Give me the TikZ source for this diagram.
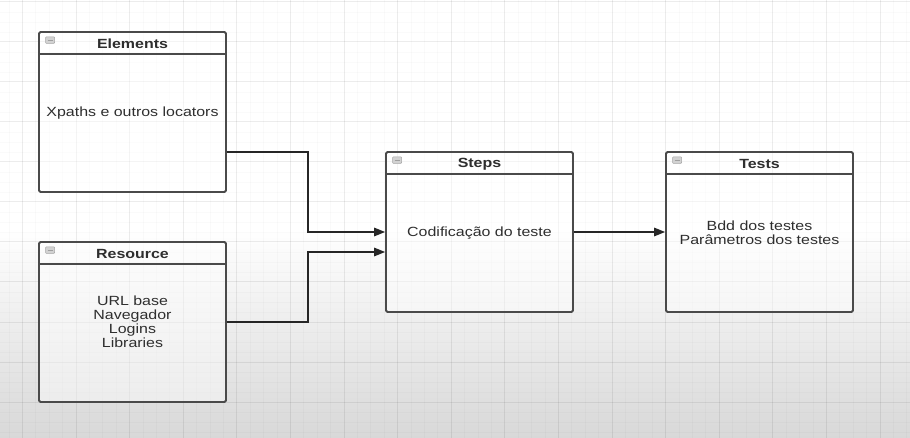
\documentclass[tikz,border=0pt]{standalone}
\usepackage{fontspec}
\setmainfont{Liberation Sans}[FakeStretch=1.2]
\usetikzlibrary{arrows.meta,calc}
\definecolor{boxline}{HTML}{4A4A4A}
\definecolor{inktext}{HTML}{2E2E2E}
\definecolor{floor}{HTML}{D8D8D8}
\begin{document}
\begin{tikzpicture}[x=1pt,y=-1pt,
  gridmajor/.style={draw=black,draw opacity=0.075,line width=1pt},
  gridminor/.style={draw=black,draw opacity=0.018,line width=0.8pt},
  classbox/.style={draw=boxline,line width=1.8pt,rounded corners=1.5pt,
    fill=white,fill opacity=0.45,text opacity=1,
    minimum width=187pt,minimum height=160pt,inner sep=0pt},
  headline/.style={draw=boxline,line width=1.6pt},
  titletext/.style={font=\fontsize{13.3}{14}\selectfont\bfseries,text=inktext},
  bodytext/.style={font=\fontsize{13.3}{14}\selectfont,text=inktext,align=center},
  foldicon/.style={draw=gray!70,fill=gray!35,line width=0.6pt,rounded corners=0.8pt,
    minimum width=9pt,minimum height=6.5pt,inner sep=0pt},
  conn/.style={draw=black!85,line width=1.5pt,
    -{Triangle[length=11pt,width=8.5pt]}},
]
\useasboundingbox (0,0) rectangle (910,438);
% page background: white, fading to grey towards the bottom
\fill[white] (0,0) rectangle (910,230);
\shade[top color=white,bottom color=floor] (0,230) rectangle (910,438);
% drawing grid
\foreach \k in {-1,...,66}{
  \pgfmathtruncatemacro{\m}{mod(\k+8,4)}
  \ifnum\m=0
    \draw[gridmajor] ({22.4+13.4*\k},0) -- ({22.4+13.4*\k},438);
  \else
    \draw[gridminor] ({22.4+13.4*\k},0) -- ({22.4+13.4*\k},438);
  \fi}
\foreach \j in {0,...,44}{
  \pgfmathtruncatemacro{\m}{mod(\j,4)}
  \ifnum\m=0
    \draw[gridmajor] (0,{2+10*\j}) -- (910,{2+10*\j});
  \else
    \draw[gridminor] (0,{2+10*\j}) -- (910,{2+10*\j});
  \fi}

% class boxes
\node[classbox] (elements) at (132.5,112) {};
\node[classbox] (resource) at (132.5,322) {};
\node[classbox] (steps)    at (479.5,232) {};
\node[classbox] (tests)    at (759.5,232) {};

% header separators, titles and fold icons
\foreach \b/\t in {elements/Elements,resource/Resource,steps/Steps,tests/Tests}{
  \draw[headline] ([yshift=-23pt]\b.north west) -- ([yshift=-23pt]\b.north east);
  \node[titletext] (\b-title) at ($(\b.north)+(0,13)$) {\t};
  \node[foldicon] (\b-icon) at ($(\b.north west)+(12,9)$) {};
  \draw[gray!75,line width=0.6pt] ([xshift=-2.5pt]\b-icon.center) -- ([xshift=2.5pt]\b-icon.center);
}

% body texts
\node[bodytext] (elements-body) at (132.5,113) {Xpaths e outros locators};
\node[bodytext] (resource-body) at (132.5,322) {URL base\\Navegador\\Logins\\Libraries};
\node[bodytext] (steps-body)    at (479.5,233) {Codificação do teste};
\node[bodytext] (tests-body)    at (759.5,233) {Bdd dos testes\\Parâmetros dos testes};

% connectors
\draw[conn] ([yshift=-40pt]elements.east) -- ++(81,0) |- (steps.west);
\draw[conn] (resource.east) -- ++(81,0) |- ([yshift=-20pt]steps.west);
\draw[conn] (steps.east) -- (tests.west);
\end{tikzpicture}
\end{document}
